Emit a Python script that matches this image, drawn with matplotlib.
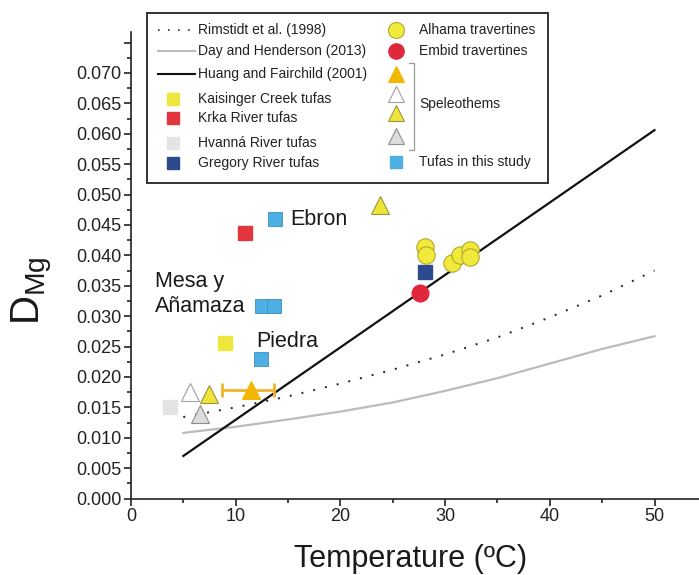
import matplotlib
matplotlib.use("Agg")
import matplotlib.pyplot as plt
from matplotlib.lines import Line2D
from matplotlib.patches import Rectangle
import numpy as np

plt.rcParams['font.family'] = ['Liberation Sans', 'DejaVu Sans']
plt.rcParams['mathtext.fontset'] = 'custom'
plt.rcParams['mathtext.rm'] = 'Liberation Sans'

# ---------------- data ----------------
# model curves
rimstidt_T = [5, 10, 15, 20, 25, 30, 35, 40, 45, 50]
rimstidt_D = [0.0134, 0.0150, 0.0168, 0.0189, 0.0212, 0.0237, 0.0265, 0.0298, 0.0334, 0.0375]
day_T = [5, 10, 15, 20, 25, 30, 35, 40, 45, 50]
day_D = [0.0108, 0.0118, 0.0130, 0.0143, 0.0158, 0.0177, 0.0198, 0.0222, 0.0246, 0.0267]
huang_T = [5, 50]
huang_D = [0.0070, 0.0606]

# tufas
kaisinger_T = [8.95]
kaisinger_D = [0.0255]
krka_T = [10.9]
krka_D = [0.0437]
hvanna_T = [3.7]
hvanna_D = [0.0151]
gregory_T = [28.1]
gregory_D = [0.0372]
study_names = ["Ebron", "Mesa y Añamaza", "Mesa y Añamaza", "Piedra"]
study_T = [13.75, 12.5, 13.7, 12.45]
study_D = [0.0460, 0.0317, 0.0317, 0.0229]

# travertines
alhama_T = [28.1, 28.2, 30.7, 31.4, 32.4, 32.4]
alhama_D = [0.0414, 0.0401, 0.0387, 0.0401, 0.0409, 0.0397]
embid_T = [27.6]
embid_D = [0.0338]

# speleothems
spel_orange_T = [11.5]
spel_orange_D = [0.0178]
spel_orange_Tmin = [8.7]
spel_orange_Tmax = [13.7]
spel_white_T = [5.6]
spel_white_D = [0.0175]
spel_yellow_T = [7.45, 23.8]
spel_yellow_D = [0.0172, 0.0483]
spel_grey_T = [6.6]
spel_grey_D = [0.0139]

x_ticks = [0, 10, 20, 30, 40, 50]
y_ticks = [0.000, 0.005, 0.010, 0.015, 0.020, 0.025, 0.030, 0.035,
           0.040, 0.045, 0.050, 0.055, 0.060, 0.065, 0.070, 0.075]
y_ticklabels = ["0.000", "0.005", "0.010", "0.015", "0.020", "0.025", "0.030",
                "0.035", "0.040", "0.045", "0.050", "0.055", "0.060", "0.065",
                "0.070", ""]

# ---------------- styles ----------------
C_BLUE = '#4DAFE2'
C_RED = '#E2363F'
C_YEL = '#EEE63C'
C_GREY = '#E4E4E4'
C_NAVY = '#2E4A8E'
C_ORANGE = '#F2B700'
C_CIRC_EDGE = '#B0A830'

W, H = 699, 575
fig = plt.figure(figsize=(W / 100, H / 100), dpi=100)
ax = fig.add_axes([131 / W, 1 - 498.5 / H, 1 - 131 / W, (498.5 - 32) / H])
ax.set_xlim(0, 54.25)
ax.set_ylim(0, 0.07674)

for s in ['top', 'right']:
    ax.spines[s].set_visible(False)
for s in ['left', 'bottom']:
    ax.spines[s].set_linewidth(1.2)
    ax.spines[s].set_color('#222222')

ax.set_xticks(x_ticks)
ax.set_xticks(np.arange(5, 55, 10), minor=True)
ax.set_yticks(y_ticks)
ax.set_yticklabels(y_ticklabels)
ax.set_yticks(np.arange(0.0025, 0.076, 0.005), minor=True)
ax.tick_params(which='major', direction='out', length=5, width=1.2,
               labelsize=13, colors='#222222', pad=2)
ax.tick_params(which='minor', direction='out', length=3, width=1.2, colors='#222222')

# curves
ax.plot(rimstidt_T, rimstidt_D, color='#222222', lw=1.4, linestyle=(0, (1, 5.2)),
        zorder=2)
ax.plot(day_T, day_D, color='#BBBBBB', lw=1.6, zorder=2)
ax.plot(huang_T, huang_D, color='#111111', lw=1.6, zorder=2)

# points
sq = dict(marker='s', linestyle='none', markersize=9.5, zorder=4)
ax.plot(kaisinger_T, kaisinger_D, color=C_YEL, markeredgecolor=C_YEL, **sq)
ax.plot(krka_T, krka_D, color=C_RED, markeredgecolor=C_RED, **sq)
ax.plot(hvanna_T, hvanna_D, color=C_GREY, markeredgecolor=C_GREY, **sq)
ax.plot(gregory_T, gregory_D, color=C_NAVY, markeredgecolor=C_NAVY, **sq)
ax.plot(study_T, study_D, color=C_BLUE, markeredgecolor='#3A8FC0',
        markeredgewidth=0.6, **sq)

ax.plot(alhama_T, alhama_D, marker='o', linestyle='none', markersize=12.5,
        color='#F2EA3A', markeredgecolor=C_CIRC_EDGE, markeredgewidth=0.8, zorder=4)
ax.plot(embid_T, embid_D, marker='o', linestyle='none', markersize=12,
        color='#E0283C', markeredgecolor='#E0283C', zorder=4)

xerr = [[t - lo for t, lo in zip(spel_orange_T, spel_orange_Tmin)],
        [hi - t for t, hi in zip(spel_orange_T, spel_orange_Tmax)]]
ax.errorbar(spel_orange_T, spel_orange_D, xerr=xerr, fmt='none', ecolor='#F0B428',
            elinewidth=2.0, capsize=5, capthick=2.0, zorder=3)
tri = dict(marker='^', linestyle='none', markersize=13, zorder=4, markeredgewidth=0.8)
ax.plot(spel_orange_T, spel_orange_D, color=C_ORANGE, markeredgecolor=C_ORANGE, **tri)
ax.plot(spel_white_T, spel_white_D, color='white', markeredgecolor='#A0A0A0', **tri)
ax.plot(spel_yellow_T, spel_yellow_D, color='#EEE43A', markeredgecolor='#9A9640', **tri)
ax.plot(spel_grey_T, spel_grey_D, color='#DCDCDC', markeredgecolor='#8E8E8E', **tri)

# annotations
ann = dict(fontsize=15.5, color='#1a1a1a', va='baseline', ha='left')
ax.text(15.2, 0.0450, "Ebron", **ann)
ax.text(2.29, 0.03484, "Mesa y", **ann)
ax.text(2.29, 0.03073, "Añamaza", **ann)
ax.text(12.0, 0.02497, "Piedra", **ann)

# axis labels
fig.text(411 / W, 1 - 567 / H, "Temperature (ºC)", fontsize=22, ha='center',
         va='baseline', color='#1a1a1a')
fig.text(32 / W, 1 - 291 / H, r"$\mathregular{D_{Mg}}$", fontsize=29, rotation=90,
         ha='center', va='center', color='#1a1a1a')

# ---------------- legend (drawn in figure pixels) ----------------
def P(x, y):
    return (x / W, 1 - y / H)

x0, y0 = P(147.3, 182.7)
x1, y1 = P(548.3, 12.7)
fig.patches.append(Rectangle((x0, y0), x1 - x0, y1 - y0, transform=fig.transFigure,
                             facecolor='white', edgecolor='#333333', lw=1.4, zorder=10))

def fline(xs, ys, **kw):
    pts = [P(x, y) for x, y in zip(xs, ys)]
    fig.add_artist(Line2D([p[0] for p in pts], [p[1] for p in pts],
                          transform=fig.transFigure, zorder=11, **kw))

def ftext(x, y, s):
    fig.text(*P(x, y), s, fontsize=10, va='center', ha='left', color='#222222', zorder=12)

fline([158, 195], [30, 30], color='#333333', lw=1.2, linestyle=(0, (1, 5)))
ftext(198, 30, "Rimstidt et al. (1998)")
fline([158, 195], [50.7, 50.7], color='#BBBBBB', lw=1.5)
ftext(198, 50.7, "Day and Henderson (2013)")
fline([158, 195], [74, 74], color='#111111', lw=1.5)
ftext(198, 74, "Huang and Fairchild (2001)")

lsq = dict(marker='s', markersize=9, linestyle='none')
fline([173], [98.7], color=C_YEL, markeredgecolor=C_YEL, **lsq)
ftext(198, 98.7, "Kaisinger Creek tufas")
fline([173], [118.3], color=C_RED, markeredgecolor=C_RED, **lsq)
ftext(198, 118.3, "Krka River tufas")
fline([173], [143.3], color=C_GREY, markeredgecolor=C_GREY, **lsq)
ftext(198, 143.3, "Hvanná River tufas")
fline([173], [163.3], color=C_NAVY, markeredgecolor=C_NAVY, **lsq)
ftext(198, 163.3, "Gregory River tufas")

fline([396], [30], marker='o', markersize=11.5, linestyle='none', color='#F2EA3A',
      markeredgecolor=C_CIRC_EDGE, markeredgewidth=0.8)
ftext(419, 30, "Alhama travertines")
fline([396], [50.7], marker='o', markersize=11, linestyle='none', color='#E0283C',
      markeredgecolor='#E0283C')
ftext(419, 50.7, "Embid travertines")

ltri = dict(marker='^', markersize=12, linestyle='none', markeredgewidth=0.8)
fline([396], [74], color=C_ORANGE, markeredgecolor=C_ORANGE, **ltri)
fline([396], [94], color='white', markeredgecolor='#A0A0A0', **ltri)
fline([396], [113.3], color='#EEE43A', markeredgecolor='#9A9640', **ltri)
fline([396], [136], color='#DCDCDC', markeredgecolor='#8E8E8E', **ltri)
fline([409, 413.5, 413.5, 409], [62.7, 62.7, 150, 150], color='#999999', lw=0.9)
ftext(419, 104, "Speleothems")
fline([396], [162.3], color=C_BLUE, markeredgecolor=C_BLUE, **lsq)
ftext(419, 162.3, "Tufas in this study")

fig.savefig("out.png", dpi=100)
